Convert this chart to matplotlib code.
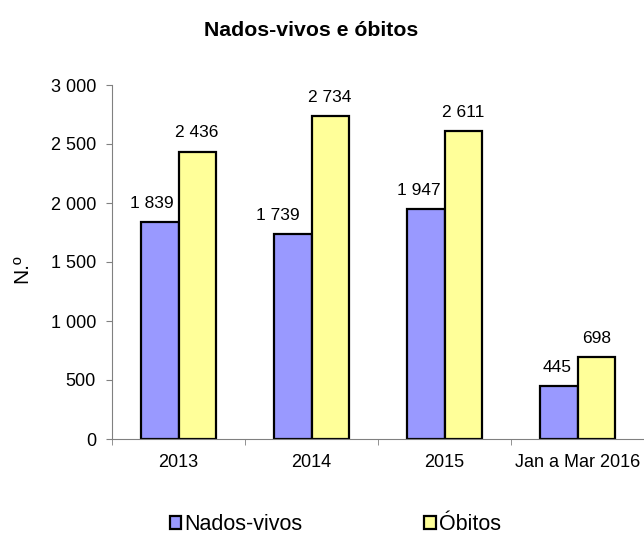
import matplotlib
matplotlib.use("Agg")
import matplotlib.pyplot as plt
import numpy as np
from matplotlib.patches import Patch

categories = ["2013", "2014", "2015", "Jan a Mar 2016"]
nados_vivos = [1839, 1739, 1947, 445]
obitos = [2436, 2734, 2611, 698]
series_names = ["Nados-vivos", "Óbitos"]
yticks = [0, 500, 1000, 1500, 2000, 2500, 3000]

# horizontal nudges of the value labels (points), as placed in the original
nados_label_dx = [-5.8, -11.2, -5.4, -1.4]
obitos_label_dx = [0, 0, 0, 0.7]

plt.rcParams['font.family'] = ['Liberation Sans', 'DejaVu Sans']

def fmt(v):
    return f"{v:,}".replace(",", " ")

fig = plt.figure(figsize=(6.44, 5.37), dpi=100)
ax = fig.add_axes([112/644, 1-439/537, 532/644, (439-85)/537])

x = np.arange(len(categories))
w = 0.28
c1, c2 = "#9999FF", "#FFFF99"
b1 = ax.bar(x - w/2, nados_vivos, w, color=c1, edgecolor="black", linewidth=1.6)
b2 = ax.bar(x + w/2, obitos, w, color=c2, edgecolor="black", linewidth=1.6)

for bars, vals, dxs in ((b1, nados_vivos, nados_label_dx), (b2, obitos, obitos_label_dx)):
    for b, v, dx in zip(bars, vals, dxs):
        ax.annotate(fmt(v), (b.get_x() + b.get_width()/2, v), xytext=(dx, 8),
                    textcoords="offset points", ha="center", va="bottom", fontsize=12.5)

ax.set_xlim(-0.5, len(categories) - 0.5)
ax.set_ylim(0, 3000)
ax.set_yticks(yticks)
ax.set_yticklabels([fmt(v) for v in yticks], fontsize=13)
ax.set_xticks(x)
ax.set_xticklabels(categories, fontsize=13)
ax.tick_params(axis='x', length=0, pad=11)
ax.set_xticks(np.arange(len(categories) + 1) - 0.5, minor=True)
ax.tick_params(axis='x', which='minor', length=4.5, color="#808080")
ax.tick_params(axis='y', length=4.5, color="#808080", pad=7)
for s in ("top", "right"):
    ax.spines[s].set_visible(False)
for s in ("left", "bottom"):
    ax.spines[s].set_color("#808080")

fig.text(22/644, 1-269/537, "N.º", rotation=90, ha="center", va="center", fontsize=15)

fig.text(311/644, 1-30/537, "Nados-vivos e óbitos", ha="center", va="center",
         fontsize=15.3, fontweight="bold")

handles = [Patch(facecolor=c1, edgecolor="black", linewidth=1.6),
           Patch(facecolor=c2, edgecolor="black", linewidth=1.6)]
fig.legend(handles, series_names, loc="center", bbox_to_anchor=(335.5/644, 1-525/537),
           ncol=2, frameon=False, fontsize=15.5, handlelength=0.55, handleheight=0.55,
           handletextpad=0.15, columnspacing=5.65)

fig.savefig("out.png", dpi=100)
